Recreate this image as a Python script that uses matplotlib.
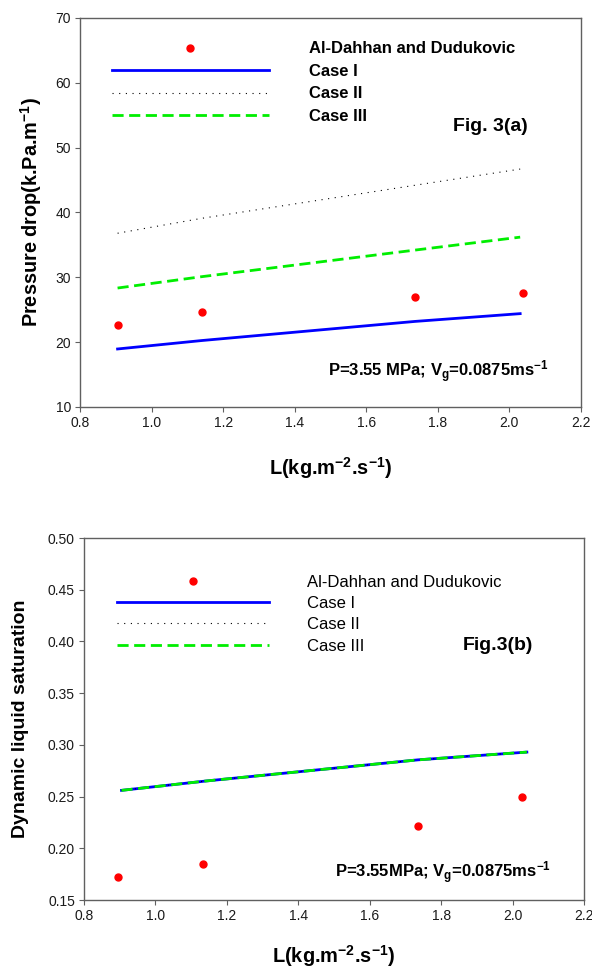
import matplotlib
matplotlib.use("Agg")
import matplotlib.pyplot as plt

plt.rcParams['font.family'] = ['Liberation Sans', 'DejaVu Sans']
plt.rcParams['mathtext.fontset'] = 'custom'
plt.rcParams['mathtext.rm'] = 'Liberation Sans'
plt.rcParams['mathtext.bf'] = 'Liberation Sans:bold'
plt.rcParams['mathtext.it'] = 'Liberation Sans:italic'

# Fig. 3(a): pressure drop vs liquid mass flux
exp_L_a = [0.905, 1.14, 1.736, 2.037]
exp_dp = [22.7, 24.6, 26.9, 27.55]
model_L_a = [0.905, 1.14, 1.736, 2.03]
case1_dp = [18.95, 20.25, 23.2, 24.4]
case2_dp = [36.8, 39.1, 44.2, 46.7]
case3_dp = [28.35, 30.1, 34.2, 36.2]

# Fig. 3(b): dynamic liquid saturation vs liquid mass flux
exp_L_b = [0.896, 1.134, 1.734, 2.026]
exp_hd = [0.172, 0.185, 0.222, 0.250]
model_L_b = [0.905, 1.14, 1.735, 2.04]
case1_hd = [0.256, 0.265, 0.2855, 0.293]
case2_hd = [0.256, 0.265, 0.2855, 0.293]
case3_hd = [0.256, 0.265, 0.2855, 0.293]

labels = ["Al-Dahhan and Dudukovic", "Case I", "Case II", "Case III"]
xticks = [0.8, 1.0, 1.2, 1.4, 1.6, 1.8, 2.0, 2.2]

SPINE = '#606060'


def style_axes(ax):
	for s in ax.spines.values():
		s.set_color(SPINE)
		s.set_linewidth(1.0)
	ax.tick_params(direction='out', length=3.5, width=0.8, color=SPINE,
		labelsize=10, labelcolor='#1a1a1a', pad=3,
		top=False, right=False)
	ax.set_xlim(0.8, 2.2)
	ax.set_xticks(xticks)
	ax.set_xticklabels([f"{v:.1f}" for v in xticks])


def draw_panel(ax, xe, ye, xm, y1, y2, y3):
	h0, = ax.plot(xe, ye, 'o', color='#ff0000', markersize=5, ls='none')
	h1, = ax.plot(xm, y1, '-', color='#0000ff', lw=2.0)
	h2, = ax.plot(xm, y2, color='black', lw=0.8, dashes=(1, 5))
	h3, = ax.plot(xm, y3, color='#00ee00', lw=2.0, dashes=(4, 2))
	return [h0, h1, h2, h3]


fig = plt.figure(figsize=(5.92, 9.68), dpi=100)

xlab = r'L(kg.m$^{\mathbf{-2}}$.s$^{\mathbf{-1}}$)'

# top panel
ax1 = fig.add_axes([80/592, 1-407/968, 501/592, 389/968])
hs = draw_panel(ax1, exp_L_a, exp_dp, model_L_a, case1_dp, case2_dp, case3_dp)
style_axes(ax1)
ax1.set_ylim(10, 70)
ax1.set_yticks(range(10, 71, 10))
ax1.set_ylabel(r'Pressure drop(k.Pa.m$^{\mathbf{-1}}$)', fontsize=14.3, fontweight='bold', va='center')
ax1.yaxis.set_label_coords(-0.098, 0.5)
ax1.set_xlabel(xlab, fontsize=14.4, fontweight='bold', va='center')
ax1.xaxis.set_label_coords(0.5, -0.156)
ax1.legend(hs, labels, loc='upper left', bbox_to_anchor=(0.064, 0.94),
	frameon=False, borderpad=0, borderaxespad=0, handlelength=9.4,
	handletextpad=2.4, labelspacing=0.45, numpoints=1,
	prop={'size': 12, 'weight': 'bold'})
ax1.text(0.7445, 0.71, 'Fig. 3(a)', transform=ax1.transAxes, fontsize=14,
	fontweight='bold', va='baseline')
ax1.text(0.495, 0.078, r'P=3.55 MPa; V$_{\mathbf{g}}$=0.0875ms$^{\mathbf{-1}}$',
	transform=ax1.transAxes, fontsize=12, fontweight='bold', va='baseline')

# bottom panel
ax2 = fig.add_axes([84/592, 1-900/968, 500/592, 362/968])
hs = draw_panel(ax2, exp_L_b, exp_hd, model_L_b, case1_hd, case2_hd, case3_hd)
style_axes(ax2)
ax2.set_ylim(0.15, 0.50)
ax2.set_yticks([0.15, 0.20, 0.25, 0.30, 0.35, 0.40, 0.45, 0.50])
ax2.set_yticklabels([f"{v:.2f}" for v in ax2.get_yticks()])
ax2.set_ylabel('Dynamic liquid saturation', fontsize=14, fontweight='bold', va='center')
ax2.yaxis.set_label_coords(-0.126, 0.5)
ax2.set_xlabel(xlab, fontsize=14.4, fontweight='bold', va='center')
ax2.xaxis.set_label_coords(0.5, -0.155)
ax2.legend(hs, labels, loc='upper left', bbox_to_anchor=(0.066, 0.899),
	frameon=False, borderpad=0, borderaxespad=0, handlelength=9.1,
	handletextpad=2.3, labelspacing=0.38, numpoints=1,
	prop={'size': 12})
ax2.text(0.758, 0.691, 'Fig.3(b)', transform=ax2.transAxes, fontsize=14,
	fontweight='bold', va='baseline')
ax2.text(0.502, 0.061, r'P=3.55MPa; V$_{\mathbf{g}}$=0.0875ms$^{\mathbf{-1}}$',
	transform=ax2.transAxes, fontsize=12, fontweight='bold', va='baseline')

fig.savefig('out.png', dpi=100)
